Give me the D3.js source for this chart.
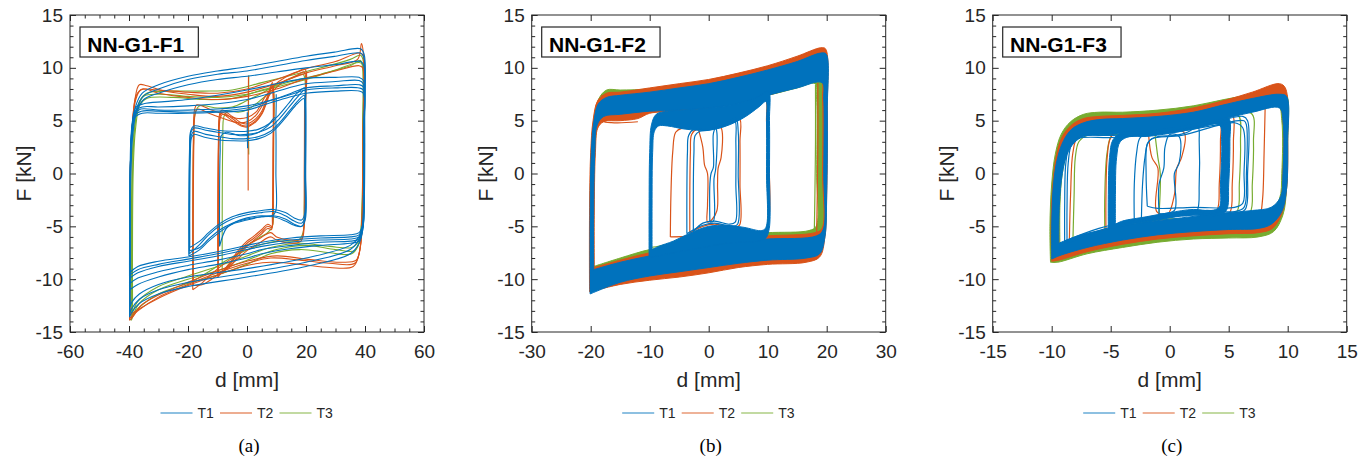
<!DOCTYPE html>
<html>
<head>
<meta charset="utf-8">
<script src="https://cdn.jsdelivr.net/npm/d3@7"></script>
<style>
  body { margin: 0; background: #fff; }
  svg { display: block; font-family: "Liberation Sans", Arial, sans-serif; }
</style>
</head>
<body>
<svg width="1372" height="462"></svg>
<script>
// ---- axes / labels ----
const fTicks = [-15, -10, -5, 0, 5, 10, 15];
const dTicksA = [-60, -40, -20, 0, 20, 40, 60];
const dTicksB = [-30, -20, -10, 0, 10, 20, 30];
const dTicksC = [-15, -10, -5, 0, 5, 10, 15];
const specimens = ["NN-G1-F1", "NN-G1-F2", "NN-G1-F3"];
const captions = ["(a)", "(b)", "(c)"];
const tests = ["T1", "T2", "T3"];
const colors = { T1: "#0072BD", T2: "#D95319", T3: "#77AC30" };

// ---- (a) NN-G1-F1 : loops [d mm, F kN] ----
const loopsA_T3 = [
  [[-39.2,-13.9],[-39.2,-6],[-39,0],[-38.5,3.5],[-37,6.2],[-35,7.3],[-30,7.5],[-20,7.3],[-10,7.2],[0,7.5],[10,8.2],[20,8.9],[30,9.8],[38,10.5],[39.2,10.3],[39.3,5],[39,-3],[38.3,-6.2],[36.5,-7.3],[30,-7.2],[20,-6.8],[10,-7.2],[0,-8.2],[-10,-9.2],[-20,-10],[-30,-11],[-36.5,-12.3],[-39.2,-13.9]],
  [[-39,-13.5],[-39,-5],[-38.7,1],[-38,4.5],[-36.5,6.8],[-34,7.6],[-25,7.8],[-15,7.8],[-5,7.9],[5,8.6],[15,9.3],[25,10],[35,10.8],[38.5,11.2],[39.3,10.8],[39.4,4],[39.1,-4],[38,-6.6],[35.5,-7.6],[28,-7.5],[18,-7.2],[8,-7.6],[0,-8.6],[-10,-9.6],[-20,-10.4],[-30,-11.4],[-37,-12.8],[-39,-13.5]],
  [[-38.8,-13.2],[-38.8,-5],[-38.5,1],[-37.8,4.2],[-36.3,6.5],[-34,7.1],[-25,7.2],[-15,7.0],[-5,7.1],[5,7.9],[15,8.7],[25,9.4],[35,10.2],[38.5,10.7],[39.1,10.2],[39.2,4],[38.9,-4],[37.8,-6.4],[35.5,-7.0],[28,-6.9],[18,-6.6],[8,-7.0],[0,-7.8],[-10,-8.8],[-20,-9.7],[-30,-10.7],[-37,-12.1],[-38.8,-13.2]],
  [[-18.3,-10.2],[-18.3,-3],[-18.1,3],[-17.5,5.8],[-16,6.4],[-10,6.2],[-5,6.3],[0,6.9],[5,7.6],[10,8.4],[15,9],[19,9.4],[19.6,9],[19.6,3],[19.4,-3],[19,-5.6],[17.5,-6.3],[12,-6.4],[8,-6.5],[3,-6.9],[-3,-7.6],[-8,-8.4],[-13,-9.3],[-18.3,-10.2]],
  [[-8.4,-9.5],[-8.4,-3],[-8.2,3],[-7.8,5.4],[-6.5,5.9],[-3,5.8],[0,6.0],[4,6.8],[7.5,7.6],[8.8,7.9],[9.0,4],[8.9,-2],[8.6,-5.0],[7,-5.6],[4,-6.1],[0,-6.8],[-3,-7.6],[-6,-8.6],[-8.4,-9.5]],
  [[0.6,9.3],[0.5,5],[0.6,1.8]]
];
const loopsA_T2 = [
  [[-39.8,-13.9],[-39.8,-7],[-39.6,0],[-39,4],[-38,7],[-36.5,8.4],[-34,8.3],[-28,7.8],[-20,7.5],[-10,7.3],[0,7.7],[10,8.5],[20,9.5],[30,10.2],[37.5,10.8],[38.8,12.3],[39.4,11.5],[39.6,5],[39.3,-3],[38.5,-6.8],[37,-8.2],[32,-8.4],[20,-8.1],[10,-7.8],[0,-8.3],[-10,-9.2],[-20,-10.3],[-30,-11.5],[-36,-12.5],[-38.5,-13.5],[-39.8,-13.9]],
  [[-39.6,-13.4],[-39.6,-6],[-39.4,1],[-38.8,4.8],[-37.5,7.4],[-35.5,8],[-30,7.6],[-20,7.2],[-10,7],[0,7.3],[10,8.0],[20,9.0],[30,9.7],[38,10.2],[39.2,10],[39.3,4],[39,-4],[38,-7.6],[36,-8.8],[28,-8.9],[18,-8.6],[8,-8.4],[0,-8.7],[-10,-9.6],[-20,-10.6],[-30,-11.8],[-37,-12.9],[-39.6,-13.4]],
  [[-39.7,-13.7],[-39.7,-6],[-39.5,1],[-38.9,4.4],[-37.7,7.0],[-36,7.9],[-30,7.9],[-20,7.7],[-10,7.6],[0,8.0],[10,8.9],[20,9.9],[30,10.6],[38,11.4],[39.3,11.2],[39.4,4],[39.1,-4],[38.2,-7.3],[36.5,-8.5],[28,-8.5],[18,-8.2],[8,-8.0],[0,-8.5],[-10,-9.4],[-20,-10.5],[-30,-11.7],[-37,-13.0],[-39.7,-13.7]],
  [[-18.4,-11],[-18.4,-4],[-18.2,3],[-17.8,6],[-17,6.5],[-12,6],[-8,5.6],[-3,5.2],[0,5.3],[3,5.8],[6,7.2],[9,8.3],[13,9.1],[17,9.6],[19.6,9.9],[19.8,6],[19.7,0],[19.4,-5],[18.5,-6.2],[15,-6.3],[10,-6.0],[8,-5.6],[4,-6.2],[0,-6.8],[-4,-7.8],[-8,-8.6],[-12,-9.5],[-15,-10.3],[-18.4,-11]],
  [[-18.2,-10.6],[-18.2,-4],[-18.0,3],[-17.6,5.6],[-16.8,6.1],[-12,5.6],[-8,5.2],[-3,4.8],[0,4.9],[3,5.5],[6,6.8],[9,7.9],[13,8.8],[17,9.3],[19.4,9.6],[19.5,6],[19.4,0],[19.2,-5.2],[18.3,-6.4],[15,-6.6],[10,-6.3],[8,-6.0],[4,-6.6],[0,-7.3],[-4,-8.3],[-8,-9.2],[-12,-10.0],[-15,-10.5],[-18.2,-10.6]],
  [[-9.9,-9.8],[-9.9,-3],[-9.7,3],[-9.3,5.6],[-8.5,6],[-5,5.4],[-2,4.8],[0,4.7],[3,5.2],[5,5.9],[7.5,7.8],[8.6,8.6],[9,8],[9,2],[8.8,-4],[8.5,-5],[7,-4.8],[5,-5.3],[2,-6],[0,-6.4],[-3,-7.3],[-6,-8.5],[-9.9,-9.8]],
  [[-9.7,-9.4],[-9.7,-3],[-9.5,3],[-9.1,5.2],[-8.3,5.6],[-5,5.0],[-2,4.5],[0,4.4],[3,4.9],[5,5.6],[7.5,7.4],[8.4,8.2],[8.8,7.5],[8.8,2],[8.6,-4],[8.3,-5.3],[7,-5.2],[5,-5.7],[2,-6.4],[0,-6.9],[-3,-7.8],[-6,-8.9],[-9.7,-9.4]],
  [[-9.8,-9.6],[-9.8,-3],[-9.6,3],[-9.2,5.4],[-8.4,5.8],[-5,5.2],[-2,4.6],[0,4.5],[3,5.0],[5,5.7],[7.5,7.6],[8.5,8.4],[8.9,7.8],[8.9,2],[8.7,-4],[8.4,-5.1],[7,-5.0],[5,-5.5],[2,-6.2],[0,-6.6],[-3,-7.5],[-6,-8.7],[-9.8,-9.6]],
  [[0.5,9.2],[0.4,4],[0.4,-1.6]]
];
const loopsA_T1 = [
  [[-39.8,-13.6],[-39.8,-5],[-39.5,1],[-39,3.8],[-37.8,6.3],[-35.5,7.6],[-30,8.4],[-20,9.2],[-10,9.7],[0,10.1],[10,10.6],[20,11.1],[30,11.5],[38.5,11.8],[39.7,11.3],[39.9,6],[39.8,-2],[39.4,-5],[38,-6.6],[35,-7.6],[20,-8.8],[0,-9.8],[-20,-10.7],[-30,-11.4],[-36.5,-12.3],[-39.2,-13.2],[-39.8,-13.6]],
  [[-39.7,-13.2],[-39.7,-5],[-39.4,1],[-38.9,3.6],[-37.6,6],[-35.2,7.3],[-30,8.0],[-20,8.9],[-10,9.4],[0,9.7],[10,10.2],[20,10.7],[30,11.1],[38.5,11.4],[39.6,11],[39.8,6],[39.7,-2],[39.3,-5],[38,-6.2],[35,-7.2],[20,-8.4],[0,-9.4],[-20,-10.3],[-30,-11],[-36.5,-11.9],[-39.1,-12.8],[-39.7,-13.2]],
  [[-39.6,-12.6],[-39.6,-5],[-39.3,1],[-38.8,3.4],[-37.5,5.8],[-35,7],[-30,7.6],[-20,8.4],[-10,8.9],[0,9.2],[10,9.6],[20,10],[30,10.3],[38.5,10.6],[39.6,10.2],[39.8,6],[39.7,-2],[39.3,-5],[38,-6],[35,-6.8],[20,-8],[0,-9],[-20,-9.8],[-30,-10.5],[-36.5,-11.4],[-39.1,-12.2],[-39.6,-12.6]],
  [[-39.7,-11],[-39.7,-4],[-39.5,1],[-39.0,4],[-37.8,6.2],[-35,6.6],[-28,6.8],[-20,7.0],[-10,7.4],[0,7.9],[10,8.5],[20,9.0],[30,9.1],[38,9.1],[39.5,8.8],[39.7,4],[39.6,-2],[39.3,-5.2],[38,-6.4],[35,-6.6],[25,-6.8],[15,-7.1],[5,-7.6],[0,-8.0],[-10,-8.6],[-20,-9.1],[-30,-9.8],[-37,-10.5],[-39.7,-11]],
  [[-39.8,-9.4],[-39.8,-4],[-39.6,1],[-39.2,4],[-38.2,5.6],[-36,6.1],[-30,6.0],[-20,6.0],[-10,6.1],[0,6.4],[10,7.1],[15,7.6],[20,8.1],[30,8.3],[38,8.4],[39.4,8.2],[39.6,4],[39.5,-2],[39.2,-4.8],[38,-5.6],[35,-5.8],[25,-5.9],[15,-6.1],[5,-6.5],[0,-6.8],[-10,-7.4],[-20,-7.9],[-30,-8.3],[-37,-8.8],[-39.8,-9.4]],
  [[-39.7,-9.9],[-39.7,-4],[-39.5,1],[-39.1,3.8],[-38,5.3],[-35.5,5.7],[-30,5.7],[-20,5.7],[-10,5.8],[0,6.0],[8,6.7],[14,7.2],[20,7.6],[30,7.8],[38,7.8],[39.4,7.6],[39.6,4],[39.5,-2],[39.2,-5],[38,-6],[35,-6.2],[25,-6.3],[15,-6.5],[5,-6.9],[0,-7.2],[-10,-7.8],[-20,-8.3],[-30,-8.8],[-37,-9.4],[-39.7,-9.9]],
  [[-39.6,-10.4],[-39.6,-4],[-39.4,1],[-39.0,3.9],[-37.9,5.9],[-35.5,6.3],[-30,6.3],[-20,6.4],[-10,6.6],[0,7.0],[8,7.6],[14,8.1],[20,8.5],[30,8.7],[38,8.8],[39.4,8.5],[39.6,4],[39.5,-2],[39.2,-5.1],[38,-6.2],[35,-6.4],[25,-6.5],[15,-6.8],[5,-7.2],[0,-7.6],[-10,-8.2],[-20,-8.7],[-30,-9.3],[-37,-9.9],[-39.6,-10.4]],
  [[-39.7,-9.6],[-39.7,-4],[-39.5,1],[-39.1,3.9],[-38.1,5.5],[-35.8,5.9],[-30,5.9],[-20,5.8],[-10,5.9],[0,6.2],[8,6.9],[14,7.4],[20,7.9],[30,8.1],[38,8.1],[39.4,7.9],[39.6,4],[39.5,-2],[39.2,-4.9],[38,-5.8],[35,-6.0],[25,-6.1],[15,-6.3],[5,-6.7],[0,-7.0],[-10,-7.6],[-20,-8.1],[-30,-8.6],[-37,-9.1],[-39.7,-9.6]],
  [[-19.7,-7.8],[-19.7,-3],[-19.5,2],[-19.1,4.0],[-18,4.5],[-14,4.3],[-10,4.1],[-5,4.0],[0,4.0],[4,4.2],[8,4.8],[11,5.6],[14,6.6],[17,7.6],[19.6,8.1],[19.9,7],[19.9,0],[19.8,-4.3],[18.6,-5.0],[16,-4.9],[13,-4.5],[9,-4.1],[5,-4.1],[0,-4.4],[-5,-4.8],[-9,-5.5],[-13,-6.4],[-16,-7.2],[-19.7,-7.8]],
  [[-19.6,-7.6],[-19.6,-3],[-19.4,2],[-19,3.9],[-18,4.3],[-14,4.1],[-10,3.9],[-5,3.7],[0,3.7],[4,3.9],[8,4.4],[11,5.2],[14,6.2],[17,7.2],[19.5,7.9],[19.8,7],[19.8,0],[19.6,-4.2],[18.5,-4.7],[16,-4.5],[13,-4.0],[9,-3.6],[5,-3.7],[0,-3.9],[-5,-4.3],[-9,-4.9],[-13,-5.8],[-16,-6.7],[-19.6,-7.6]],
  [[-19.5,-7.3],[-19.5,-3],[-19.3,2],[-18.9,3.6],[-18,4.0],[-14,3.7],[-10,3.5],[-5,3.3],[0,3.3],[4,3.5],[8,4.0],[11,4.8],[14,5.8],[17,6.8],[19.4,7.4],[19.7,6.5],[19.7,0],[19.5,-4.5],[18.5,-5.0],[16,-4.8],[13,-4.3],[9,-4.0],[5,-4.1],[0,-4.3],[-5,-4.7],[-9,-5.3],[-13,-6.2],[-16,-7.0],[-19.5,-7.3]],
  [[-19.4,-7.0],[-19.4,-3],[-19.2,2],[-18.8,3.4],[-18,3.7],[-14,3.4],[-10,3.2],[-5,3.1],[0,3.1],[4,3.3],[8,3.8],[11,4.6],[14,5.6],[17,6.6],[19.3,7.1],[19.6,6.5],[19.6,0],[19.5,-3.9],[18.5,-4.4],[16,-4.2],[13,-3.7],[9,-3.4],[5,-3.5],[0,-3.7],[-5,-4.1],[-9,-4.7],[-13,-5.6],[-16,-6.4],[-19.4,-7.0]],
  [[-9.3,-6.9],[-9.3,-2],[-9.1,2],[-8.7,3.6],[-7,3.9],[-3,3.6],[0,3.6],[4,3.9],[7,4.5],[9.5,5.3],[9.8,4],[9.8,0],[9.7,-3.6],[8.5,-4.0],[5,-4.0],[0,-4.2],[-4,-4.6],[-7,-5.2],[-9.3,-6.9]],
  [[9.8,5.3],[9.9,6.5],[9.9,7.5]],
  [[0.1,5.8],[0.1,4],[0.2,2.4]]
];

// ---- (b) NN-G1-F2 : dense envelopes [outer, inner] and single loops ----
const bandB_T3 = [
  [[-20.1,-10.6],[-20.1,-4],[-19.9,2],[-19.5,5],[-18.7,7.0],[-17.3,7.9],[-15,7.9],[-10,8.0],[-5,8.4],[0,8.8],[5,9.4],[10,10.0],[15,10.8],[19,11.4],[19.8,11.2],[20,6],[19.9,-2],[19.6,-5.8],[18.5,-7.5],[16.5,-8.0],[10,-7.9],[5,-8.0],[0,-8.4],[-5,-8.9],[-10,-9.4],[-15,-10.0],[-20.1,-10.6]],
  [[-19.5,-8.8],[-19.5,-4],[-19.3,2],[-18.8,4.6],[-17.8,5.6],[-15,5.7],[-10,5.8],[-5,6.0],[0,6.3],[5,6.9],[10,7.4],[15,8.1],[18,8.5],[18.3,7],[18.3,0],[18.2,-5.0],[17,-5.4],[10,-5.6],[5,-5.8],[0,-6.2],[-5,-6.8],[-10,-7.2],[-15,-8.0],[-19.5,-8.8]]
];
const bandB_T2 = [
  [[-20.2,-11.2],[-20.2,-4],[-20,2],[-19.6,5],[-18.8,6.9],[-17.3,7.6],[-15,7.7],[-10,8.1],[-5,8.5],[0,8.9],[5,9.5],[10,10.2],[15,11.1],[19,11.9],[19.8,11.8],[20.1,6],[20,-2],[19.7,-6],[18.8,-7.9],[16.5,-8.4],[10,-8.6],[5,-8.9],[0,-9.4],[-5,-9.8],[-10,-10.1],[-15,-10.5],[-20.2,-11.2]],
  [[-19.4,-8.9],[-19.4,-4],[-19.2,2],[-18.8,4.3],[-17.8,4.9],[-15,5.0],[-12,5.2],[-10,5.7],[-5,5.9],[0,6.2],[5,6.7],[10,7.4],[15,8.2],[19,8.8],[19.3,7],[19.3,0],[19.2,-5.2],[18,-5.6],[10,-5.9],[5,-6.1],[0,-6.5],[-5,-7.0],[-10,-7.5],[-15,-8.2],[-19.4,-8.9]]
];
const bandB_T1 = [
  [[-20.1,-11.4],[-20.1,-4],[-19.9,2],[-19.5,4.8],[-18.7,6.6],[-17.3,7.2],[-15,7.4],[-10,7.7],[-5,8.1],[0,8.5],[5,9.1],[10,9.8],[15,10.6],[19,11.4],[19.9,11.3],[20.1,6],[20,-2],[19.7,-6],[18.8,-7.6],[16.5,-8.0],[10,-8.2],[5,-8.5],[0,-8.9],[-5,-9.3],[-10,-9.7],[-15,-10.3],[-20.1,-11.4]],
  [[-19.5,-9.1],[-19.5,-4],[-19.3,2],[-18.9,4.6],[-17.8,5.4],[-15,5.6],[-10,5.9],[-5,6.0],[0,6.2],[5,6.6],[10,7.4],[15,8.1],[19.2,8.6],[19.5,7],[19.5,0],[19.4,-5.3],[18.3,-5.9],[10,-6.2],[5,-6.4],[0,-6.8],[-5,-7.3],[-10,-7.8],[-15,-8.4],[-19.5,-9.1]]
];
const bandB10_T1 = [
  [[-10.1,-7.9],[-10.1,-3],[-10,2],[-9.7,4.6],[-8.9,5.6],[-7,5.9],[-4,6.0],[0,6.2],[3,6.4],[6,6.8],[8.5,7.3],[10.1,7.8],[10.3,5],[10.3,0],[10.2,-5.4],[9.5,-6.2],[6,-6.5],[3,-6.6],[0,-6.9],[-3,-7.2],[-6,-7.5],[-8.5,-7.8],[-10.1,-7.9]],
  [[-9.6,-7.2],[-9.6,-3],[-9.5,2],[-9.2,4.0],[-8.5,4.5],[-7,4.5],[-4,4.2],[0,4.1],[3,4.5],[6,5.3],[8.5,6.3],[9.7,6.8],[9.8,5],[9.8,0],[9.7,-5.1],[9,-5.4],[6,-5.1],[3,-4.9],[0,-5.0],[-3,-5.6],[-6,-6.4],[-8.5,-6.9],[-9.6,-7.2]]
];
const loopsB_T3 = [
  [[-9.8,-7.0],[-9.8,-3],[-9.7,2],[-9.4,4.4],[-8.6,5.0],[-5,4.8],[0,4.6],[4,5.2],[7,6.2],[9.6,7.2],[9.9,5],[9.9,0],[9.8,-5.2],[9,-5.6],[5,-5.3],[0,-5.4],[-4,-6.0],[-7,-6.7],[-9.8,-7.0]],
  [[18.1,8.4],[18.1,3],[18.0,-2],[17.9,-5.5]]
];
const loopsB_T2 = [
  [[-18.1,7.4],[-18.0,5.0],[-16,4.8],[-12,4.9]],
  [[-6.5,-6.0],[-6.4,-2],[-6.1,2],[-5.6,3.9],[-4.5,4.3],[0,4.3],[3,4.6],[6,5.6],[9.6,7.0],[9.8,5],[9.7,-5.4],[8,-5.7],[4,-5.3],[0,-5.6],[-3,-5.9],[-6.5,-6.0]],
  [[-1.8,4.3],[-1.0,2.5],[-0.7,0.8],[-0.2,0],[-0.2,-3],[-0.2,-4.6],[0.5,-4.4],[1.4,-3.5],[1.5,-1],[1.6,0.5],[2.1,1.5],[2.2,4.2],[1.5,4.7],[0.3,4.6],[-1.8,4.3]],
  [[-3.2,-5.6],[-3.2,-2],[-3.1,2],[-2.9,3.7],[-2,4.2],[0,4.2],[2.5,4.5],[5.2,5.2],[5.3,3],[5.3,-1],[5.2,-4.9],[4,-5.1],[1,-4.8],[-1,-5.0],[-3.2,-5.6]],
  [[18.5,8.6],[18.5,3],[18.4,-2],[18.3,-5.6]]
];
const loopsB_T1 = [
  [[-3.7,-5.7],[-3.7,-2],[-3.6,2],[-3.4,3.6],[-2.5,4.2],[0,4.2],[2.5,4.6],[4.6,5.2],[5,4],[5,0],[4.9,-4.8],[4,-5.0],[1,-4.7],[-1,-4.9],[-2.5,-5.3],[-3.7,-5.7]],
  [[-2.6,-5.5],[-2.6,-1],[-2.5,2],[-2.3,3.6],[-1.5,4.0],[0,4.1],[2.5,4.5],[4.4,5.0],[4.6,3],[4.6,-1],[4.5,-4.6],[3.5,-4.8],[1,-4.5],[-1,-4.7],[-2.6,-5.5]],
  [[0.2,-4.6],[0.2,-1],[0.4,0],[0.8,0.6],[0.8,3.8],[1.2,4.3],[1.4,3.8],[1.2,0.5],[0.9,-0.5],[0.8,-4.5],[0.2,-4.6]]
];

// ---- (c) NN-G1-F3 ----
const bandC_T3 = [
  [[-10.1,-8.4],[-10.15,-5],[-10.0,-1],[-9.7,1.8],[-9.2,3.7],[-8.4,4.9],[-7.3,5.6],[-6,5.8],[-4,5.8],[-1,6.0],[2,6.4],[4.6,7.0],[7,7.5],[9.3,8.0],[9.9,7.5],[10,3],[9.9,-1.5],[9.6,-3.9],[8.8,-5.5],[7.5,-6.0],[5,-6.1],[2,-6.2],[-1,-6.5],[-4,-7.0],[-7,-7.6],[-9.5,-8.4],[-10.1,-8.4]],
  [[-9.3,-7.0],[-9.3,-3],[-9.1,0],[-8.7,2.0],[-8.1,3.3],[-7.3,4.1],[-5,4.4],[-2,4.5],[1,4.8],[4,5.4],[7,6.0],[9.2,6.4],[9.5,5],[9.5,0],[9.3,-2.4],[8.5,-3.6],[7,-4.0],[4,-4.3],[1,-4.6],[-2,-5.0],[-5,-5.6],[-7.5,-6.2],[-9.3,-7.0]]
];
const bandC_T2 = [
  [[-10.0,-8.3],[-10.05,-5],[-9.9,-1],[-9.6,1.7],[-9.1,3.5],[-8.3,4.6],[-7.3,5.2],[-6,5.4],[-4,5.5],[-1,5.7],[2,6.2],[4.6,6.9],[7,7.7],[9.3,8.5],[9.8,8.1],[10,3],[9.9,-1.5],[9.5,-3.8],[8.7,-5.2],[7.5,-5.6],[5,-5.7],[2,-5.9],[-1,-6.2],[-4,-6.7],[-7,-7.4],[-9.4,-8.2],[-10.0,-8.3]],
  [[-9.4,-6.8],[-9.4,-3],[-9.2,0],[-8.8,1.9],[-8.2,3.1],[-7.4,3.8],[-5,4.0],[-2,4.2],[1,4.6],[4,5.2],[7,5.9],[9.3,6.3],[9.6,5],[9.6,0],[9.4,-2.3],[8.6,-3.4],[7,-3.8],[4,-4.1],[1,-4.4],[-2,-4.8],[-5,-5.4],[-7.5,-6.0],[-9.4,-6.8]]
];
const bandC_T1 = [
  [[-10.0,-8.1],[-10.0,-5],[-9.85,-1],[-9.5,1.5],[-9.0,3.1],[-8.3,4.2],[-7.3,4.8],[-6,5.1],[-4,5.2],[-1,5.4],[2,5.8],[4.6,6.5],[7,7.1],[9.3,7.5],[9.9,7.3],[10,3],[9.9,-1.5],[9.5,-3.6],[8.6,-4.8],[7.5,-5.2],[5,-5.3],[2,-5.5],[-1,-5.8],[-4,-6.3],[-7,-7.0],[-9.4,-7.8],[-10.0,-8.1]],
  [[-9.4,-6.6],[-9.35,-3],[-9.1,0],[-8.7,1.8],[-8.1,2.9],[-7.3,3.5],[-5,3.7],[-2,3.9],[1,4.3],[4,5.0],[7,5.8],[9.3,6.2],[9.6,5],[9.6,0],[9.4,-2.2],[8.6,-3.2],[7,-3.5],[4,-3.8],[1,-4.2],[-2,-4.6],[-5,-5.2],[-7.5,-5.8],[-9.4,-6.6]]
];
const bandC5_T1 = [
  [[-5.2,-5.3],[-5.2,-2],[-5.1,1.5],[-4.8,3.2],[-4,3.9],[-2,4.0],[0,4.3],[2,4.7],[4,5.1],[5.0,5.2],[5.1,3],[5.0,-1],[4.8,-3.5],[4,-4.0],[2,-3.9],[0,-4.2],[-2,-4.6],[-4,-5.0],[-5.2,-5.3]],
  [[-4.6,-4.8],[-4.6,-2],[-4.5,1.5],[-4.2,3.0],[-3.4,3.5],[-2,3.5],[0,3.8],[2,4.2],[4.2,4.6],[4.4,3],[4.3,-1],[4.2,-3.2],[3.5,-3.5],[2,-3.4],[0,-3.7],[-2,-4.1],[-4,-4.5],[-4.6,-4.8]]
];
const loopsC_T3 = [
  [[-8.2,-6.3],[-8.1,-2],[-8.0,1.5],[-7.7,3.0],[-7,3.6],[-4,3.7],[0,4.1],[4,4.9],[5.8,5.5],[6.0,3],[5.9,-1],[5.7,-3.6],[4.5,-4.2],[0,-4.3],[-4,-4.9],[-8.2,-6.3]],
  [[-5.5,-5.4],[-5.5,-2],[-5.3,2],[-4.9,3.6],[-3.5,4.2],[0,4.4],[3,4.9],[6.9,5.7],[7.1,3],[7.0,-1],[6.8,-3.7],[5.5,-4.2],[2,-4.3],[-2,-4.8],[-5.5,-5.4]],
  [[-1.3,4.2],[-1.0,1.5],[-0.8,0],[-0.9,-3.8]]
];
const loopsC_T2 = [
  [[-8.5,-6.2],[-8.4,-2],[-8.2,2],[-7.8,3.4],[-6,3.8],[-2,3.9],[2,4.5],[4.2,5.3],[4.3,3],[4.2,-1],[4.0,-3.5],[3,-4.2],[0,-4.4],[-4,-5.0],[-8.5,-6.2]],
  [[-5.4,-5.5],[-5.4,-2],[-5.3,1.5],[-5.0,3.4],[-4.2,4.2],[-2,4.4],[0,4.6],[2,5.0],[4.2,5.5],[5.3,5.6],[5.4,3],[5.3,-1],[5.1,-3.7],[4.2,-4.3],[2,-4.2],[0,-4.6],[-2,-5.0],[-4,-5.4],[-5.4,-5.5]],
  [[-1.8,3.8],[-1.5,1.5],[-1.0,0.5],[-1.1,-3.6],[-0.2,-3.9],[0.4,-2],[0.6,0.5],[1.0,1.5],[1.2,3.9],[-1.8,3.8]],
  [[8.1,6.8],[8.0,2],[7.9,-2],[7.7,-4.2]]
];
const loopsC_T1 = [
  [[-8.7,-6.6],[-8.7,-3],[-8.6,1],[-8.3,2.8],[-7.6,3.5],[-5,3.6],[-2,3.8],[1,4.2],[4,4.9],[6.2,5.4],[6.6,5],[6.6,0],[6.4,-3.4],[5.5,-3.8],[3,-3.7],[0,-4.1],[-3,-4.6],[-6,-5.4],[-8.7,-6.6]],
  [[-8.9,-6.4],[-8.9,-3],[-8.8,1],[-8.5,2.6],[-7.8,3.3],[-5,3.4],[-2,3.6],[1,4.0],[4,4.6],[6.3,5.0],[6.5,4.6],[6.5,0],[6.3,-3.2],[5.5,-3.6],[3,-3.5],[0,-3.9],[-3,-4.4],[-6,-5.2],[-8.9,-6.4]],
  [[-1.9,-3.1],[-2,0],[-1.9,2.8],[-1.5,3.3],[1,3.6],[5.5,4.8],[6.2,4.3],[6.3,0],[6.2,-2.8],[5.5,-3.2],[2,-3.2],[-1,-3.3],[-1.9,-3.1]],
  [[-2.4,-4.4],[-2.3,-1],[-2.1,1.5],[-1.8,3.0],[-1,3.5],[0.5,3.6],[1.5,3.9],[2.4,4.4],[2.5,3],[2.5,-1],[2.3,-3.6],[1.5,-4.0],[0,-3.9],[-1.5,-4.2],[-2.4,-4.4]],
  [[-0.9,-3.8],[-0.9,-1],[-0.5,0.5],[-0.4,2.5],[0,3.7],[0.8,3.5],[0.8,1],[0.4,0],[0.4,-3.5],[-0.9,-3.8]],
  [[-3.0,-4.6],[-3.0,-1],[-2.8,2],[-2.5,3.4],[-1.6,3.9],[1,4.1],[3,4.5],[4.4,4.8],[4.5,2],[4.4,-2],[4.2,-3.6],[3,-3.9],[0,-4.0],[-3.0,-4.6]]
];

// ---- layout ----
const svg = d3.select("svg");
const plotTop = 15, plotBottom = 332, plotW = 354;
const ink = "#262626";

const panels = [
  { left: 70,    xDom: [-60, 60], xTicks: dTicksA, xMinor: 5,
    bands: { T3: [], T2: [], T1: [] },
    loops: { T3: loopsA_T3, T2: loopsA_T2, T1: loopsA_T1 } },
  { left: 531.7, xDom: [-30, 30], xTicks: dTicksB, xMinor: null,
    bands: { T3: [bandB_T3], T2: [bandB_T2], T1: [bandB_T1, bandB10_T1] },
    loops: { T3: loopsB_T3, T2: loopsB_T2, T1: loopsB_T1 } },
  { left: 992.7, xDom: [-15, 15], xTicks: dTicksC, xMinor: null,
    bands: { T3: [bandC_T3], T2: [bandC_T2], T1: [bandC_T1, bandC5_T1] },
    loops: { T3: loopsC_T3, T2: loopsC_T2, T1: loopsC_T1 } }
];

const defs = svg.append("defs");

panels.forEach((p, i) => {
  const x = d3.scaleLinear().domain(p.xDom).range([p.left, p.left + plotW]);
  const y = d3.scaleLinear().domain([-15, 15]).range([plotBottom, plotTop]);
  const cx = p.left + plotW / 2;

  defs.append("clipPath").attr("id", "clip" + i)
    .append("rect").attr("x", p.left).attr("y", plotTop)
    .attr("width", plotW).attr("height", plotBottom - plotTop);

  const line = d3.line()
    .x(d => x(d[0])).y(d => y(d[1]))
    .curve(d3.curveCatmullRom.alpha(0.5));

  const g = svg.append("g").attr("clip-path", `url(#clip${i})`);

  ["T3", "T2", "T1"].forEach(t => {
    // dense cycles drawn as filled envelopes
    g.selectAll(null).data(p.bands[t]).enter().append("path")
      .attr("d", b => line(b[0]) + line(b[1]))
      .attr("fill", colors[t]).attr("fill-rule", "evenodd")
      .attr("stroke", colors[t]).attr("stroke-width", 1);
    g.selectAll(null).data(p.loops[t]).enter().append("path")
      .attr("d", line)
      .attr("fill", "none")
      .attr("stroke", colors[t])
      .attr("stroke-width", i === 0 ? 1.1 : 1.2)
      .attr("stroke-linejoin", "round");
  });

  // axes box with inward ticks on all four sides
  const fmt = d => String(d);
  const yMinor = d3.range(-15, 16, 1).filter(v => v % 5 !== 0);
  const axes = svg.append("g").attr("color", ink);

  axes.append("g").attr("transform", `translate(0,${plotBottom})`)
    .call(d3.axisBottom(x).tickValues(p.xTicks).tickFormat(fmt).tickSize(-6).tickPadding(13));
  axes.append("g").attr("transform", `translate(0,${plotTop})`)
    .call(d3.axisTop(x).tickValues(p.xTicks).tickFormat("").tickSize(-6));
  axes.append("g").attr("transform", `translate(${p.left},0)`)
    .call(d3.axisLeft(y).tickValues(fTicks).tickFormat(fmt).tickSize(-6).tickPadding(7));
  axes.append("g").attr("transform", `translate(${p.left + plotW},0)`)
    .call(d3.axisRight(y).tickValues(fTicks).tickFormat("").tickSize(-6));
  axes.append("g").attr("transform", `translate(${p.left},0)`)
    .call(d3.axisLeft(y).tickValues(yMinor).tickFormat("").tickSize(-3.5));
  axes.append("g").attr("transform", `translate(${p.left + plotW},0)`)
    .call(d3.axisRight(y).tickValues(yMinor).tickFormat("").tickSize(-3.5));
  if (p.xMinor) {
    const xMinor = d3.range(p.xDom[0], p.xDom[1] + 0.1, p.xMinor).filter(v => v % 20 !== 0);
    axes.append("g").attr("transform", `translate(0,${plotBottom})`)
      .call(d3.axisBottom(x).tickValues(xMinor).tickFormat("").tickSize(-3.5));
    axes.append("g").attr("transform", `translate(0,${plotTop})`)
      .call(d3.axisTop(x).tickValues(xMinor).tickFormat("").tickSize(-3.5));
  }
  axes.selectAll(".domain").remove();
  axes.selectAll("line").attr("stroke", ink).attr("stroke-width", 1);
  axes.selectAll("text").attr("font-family", "Liberation Sans, Arial, sans-serif")
    .attr("font-size", 19).attr("fill", ink);

  svg.append("rect").attr("x", p.left).attr("y", plotTop)
    .attr("width", plotW).attr("height", plotBottom - plotTop)
    .attr("fill", "none").attr("stroke", ink).attr("stroke-width", 1);

  // axis titles
  svg.append("text").attr("x", cx).attr("y", 387)
    .attr("text-anchor", "middle").attr("font-size", 21).attr("fill", ink)
    .text("d [mm]");
  svg.append("text")
    .attr("transform", `translate(${p.left - 46},${y(0)}) rotate(-90)`)
    .attr("text-anchor", "middle").attr("dy", "0.35em")
    .attr("font-size", 21).attr("fill", ink)
    .text("F [kN]");

  // specimen label box
  const lab = svg.append("g");
  const lt = lab.append("text").attr("x", p.left + 17.3).attr("y", 51.7)
    .attr("font-size", 21).attr("font-weight", "bold").attr("fill", "#000")
    .text(specimens[i]);
  const bw = lt.node().getComputedTextLength();
  lab.insert("rect", "text").attr("x", p.left + 10).attr("y", 27)
    .attr("width", bw + 21.5).attr("height", 30)
    .attr("fill", "#fff").attr("stroke", ink).attr("stroke-width", 1.2);

  // legend
  const leg = svg.append("g").attr("transform", `translate(${cx - 86.5},413)`);
  tests.forEach((t, k) => {
    const gx = k * 59.5;
    leg.append("line").attr("x1", gx).attr("x2", gx + 32)
      .attr("y1", 0).attr("y2", 0)
      .attr("stroke", colors[t]).attr("stroke-opacity", 0.6).attr("stroke-width", 1.6);
    leg.append("text").attr("x", gx + 37).attr("y", 5)
      .attr("font-size", 14).attr("fill", ink).text(t);
  });

  // caption
  svg.append("text").attr("x", cx + 2).attr("y", 452)
    .attr("text-anchor", "middle")
    .attr("font-family", "Liberation Serif, Times New Roman, serif")
    .attr("font-size", 19).attr("fill", "#000")
    .text(captions[i]);
});
</script>
</body>
</html>
